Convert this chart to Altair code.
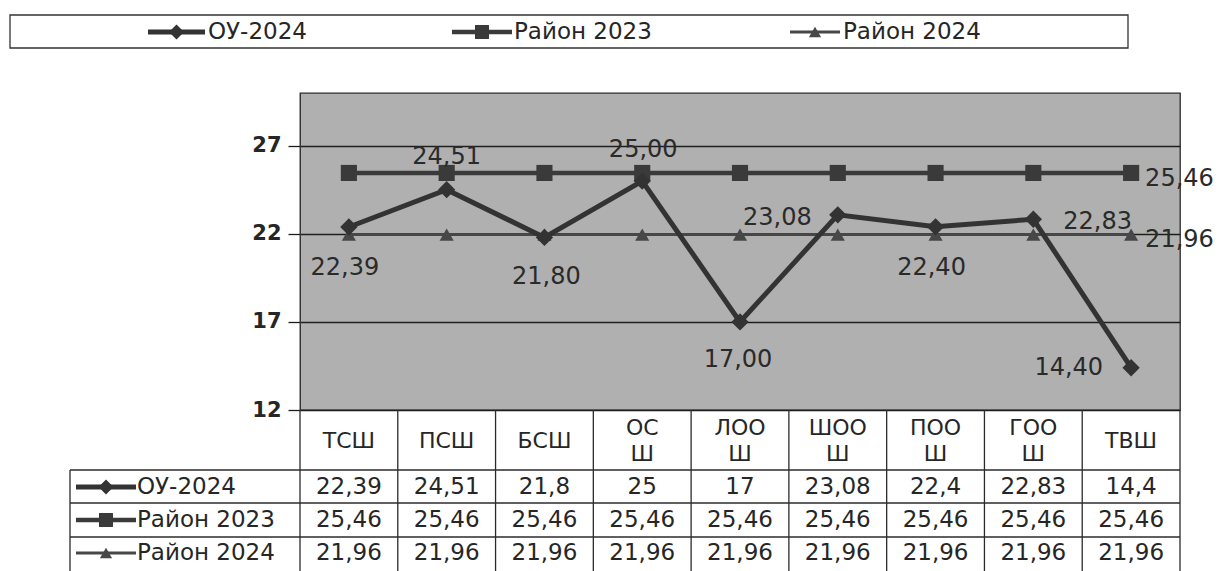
import altair as alt
import pandas as pd

# ---------------- data ----------------
categories = ["ТСШ", "ПСШ", "БСШ", "ОСШ", "ЛООШ", "ШООШ", "ПООШ", "ГООШ", "ТВШ"]
header_labels = ["ТСШ", "ПСШ", "БСШ", "ОС\nШ", "ЛОО\nШ", "ШОО\nШ", "ПОО\nШ", "ГОО\nШ", "ТВШ"]
series_names = ["ОУ-2024", "Район 2023", "Район 2024"]
ou_2024 = [22.39, 24.51, 21.80, 25.00, 17.00, 23.08, 22.40, 22.83, 14.40]
rayon_2023 = [25.46, 25.46, 25.46, 25.46, 25.46, 25.46, 25.46, 25.46, 25.46]
rayon_2024 = [21.96, 21.96, 21.96, 21.96, 21.96, 21.96, 21.96, 21.96, 21.96]
y_ticks = [12, 17, 22, 27]
y_domain = [12, 30]

series_values = [ou_2024, rayon_2023, rayon_2024]

# ---------------- layout / style ----------------
W, H = 880, 317
STEP = W / len(categories)
FONT = "DejaVu Sans"
TXT = "#262626"


def px(x):  # page x -> plot x
    return x - 300


def py(y):  # page y -> plot y
    return y - 93


def table_fmt(v):
    return f"{v:g}".replace(".", ",")


def label_fmt(v):
    return f"{v:.2f}".replace(".", ",")


styles = [
    dict(color="#333333", width=5, shape="diamond", size=300),
    dict(color="#3a3a3a", width=4.5, shape="square", size=260),
    dict(color="#474747", width=3, shape="triangle-up", size=200),
]

# label placement: (series index, point index, dx, dy, align)
label_place = [
    (0, 0, -4, 41, "center"),
    (0, 1, 0, -33, "center"),
    (0, 2, 2, 40, "center"),
    (0, 3, 1, -31, "center"),
    (0, 4, -2, 38, "center"),
    (0, 5, -26, 3, "right"),
    (0, 6, -4, 41, "center"),
    (0, 7, 30, 3, "left"),
    (0, 8, -28, 0, "right"),
    (1, 8, 14, 6, "left"),
    (2, 8, 14, 5, "left"),
]

X = alt.X("cat:N", sort=categories,
          scale=alt.Scale(type="point", domain=categories, padding=0.5), axis=None)
Y = alt.Y("value:Q",
          scale=alt.Scale(domain=y_domain, nice=False, zero=False),
          axis=alt.Axis(values=y_ticks, grid=True, gridColor="#1e1e1e", gridWidth=1.3,
                        tickColor="#1e1e1e", tickSize=12, tickWidth=1.3,
                        domainColor="#333", labelFont=FONT, labelFontSize=21,
                        labelFontWeight="bold", labelColor=TXT, labelPadding=7,
                        title=None))

layers = []

frames = []
for name, vals in zip(series_names, series_values):
    frames.append(pd.DataFrame({"cat": categories, "series": name, "value": vals}))
df_all = pd.concat(frames, ignore_index=True)

# series lines + points (draw Район 2024, Район 2023, ОУ-2024)
for idx in [2, 1, 0]:
    st = styles[idx]
    d = df_all[df_all.series == series_names[idx]]
    base = alt.Chart(d)
    layers.append(base.mark_line(color=st["color"], strokeWidth=st["width"]).encode(x=X, y=Y))
    layers.append(base.mark_point(shape=st["shape"], size=st["size"], filled=True,
                                  color=st["color"], opacity=1).encode(x=X, y=Y))

# data labels
for s, i, dx, dy, align in label_place:
    v = series_values[s][i]
    d = pd.DataFrame({"cat": [categories[i]], "value": [v], "t": [label_fmt(v)]})
    layers.append(alt.Chart(d).mark_text(font=FONT, fontSize=24, color="#2a2a2a",
                                         align=align, baseline="middle", dx=dx, dy=dy)
                  .encode(x=X, y=Y, text="t:N"))

# ---------------- table ----------------
line_c = "#2b2b2b"
df_cat = pd.DataFrame({"cat": categories, "hdr": header_labels})
df_cat["two"] = df_cat["hdr"].str.contains("\n")
# vertical boundaries
layers.append(alt.Chart(df_cat).mark_rule(color=line_c, strokeWidth=1.3, xOffset=-STEP / 2)
              .encode(x=X, y=alt.value(py(410)), y2=alt.value(py(575))))
layers.append(alt.Chart(df_cat.tail(1)).mark_rule(color=line_c, strokeWidth=1.3, xOffset=STEP / 2)
              .encode(x=X, y=alt.value(py(410)), y2=alt.value(py(575))))
# horizontal lines
for yy in [470, 503, 537]:
    layers.append(alt.Chart(df_cat.head(1)).mark_rule(color=line_c, strokeWidth=1.3)
                  .encode(x=alt.value(px(70)), x2=alt.value(px(1180)), y=alt.value(py(yy))))
layers.append(alt.Chart(df_cat.head(1)).mark_rule(color=line_c, strokeWidth=1.3)
              .encode(x=alt.value(px(70)), y=alt.value(py(470)), y2=alt.value(py(575))))
# header labels
layers.append(alt.Chart(df_cat[~df_cat.two]).mark_text(font=FONT, fontSize=22, color=TXT,
                                                       baseline="middle", align="center")
              .encode(x=X, y=alt.value(py(441)), text="hdr:N"))
layers.append(alt.Chart(df_cat[df_cat.two]).mark_text(font=FONT, fontSize=22, color=TXT,
                                                      lineBreak="\n", lineHeight=26,
                                                      baseline="middle", align="center")
              .encode(x=X, y=alt.value(py(428)), text="hdr:N"))
# values rows
row_y = [487, 520, 553]
for k, (name, vals) in enumerate(zip(series_names, series_values)):
    d = pd.DataFrame({"cat": categories, "t": [table_fmt(v) for v in vals]})
    layers.append(alt.Chart(d).mark_text(font=FONT, fontSize=23, color=TXT,
                                         baseline="middle", align="center")
                  .encode(x=X, y=alt.value(py(row_y[k])), text="t:N"))
    st = styles[k]
    one = pd.DataFrame({"name": [name]})
    layers.append(alt.Chart(one).mark_rule(color=st["color"], strokeWidth=st["width"])
                  .encode(x=alt.value(px(76)), x2=alt.value(px(136)), y=alt.value(py(row_y[k]))))
    layers.append(alt.Chart(one).mark_point(shape=st["shape"], size=st["size"] * 0.75, filled=True,
                                            color=st["color"], opacity=1)
                  .encode(x=alt.value(px(106)), y=alt.value(py(row_y[k]))))
    layers.append(alt.Chart(one).mark_text(font=FONT, fontSize=23, color=TXT, align="left",
                                           baseline="middle")
                  .encode(x=alt.value(px(137)), y=alt.value(py(row_y[k])), text="name:N"))

# ---------------- top legend ----------------
box = pd.DataFrame({"a": [0]})
layers.append(alt.Chart(box).mark_rect(fill="white", stroke="#333", strokeWidth=1.3)
              .encode(x=alt.value(px(10)), x2=alt.value(px(1128)),
                      y=alt.value(py(15)), y2=alt.value(py(48))))
leg_x = [(148, 205, 208), (452, 512, 514), (790, 840, 843)]
for k, name in enumerate(series_names):
    st = styles[k]
    x0, x1, xt = leg_x[k]
    one = pd.DataFrame({"name": [name]})
    layers.append(alt.Chart(one).mark_rule(color=st["color"], strokeWidth=st["width"])
                  .encode(x=alt.value(px(x0)), x2=alt.value(px(x1)), y=alt.value(py(32))))
    layers.append(alt.Chart(one).mark_point(shape=st["shape"], size=st["size"] * 0.75, filled=True,
                                            color=st["color"], opacity=1)
                  .encode(x=alt.value(px((x0 + x1) / 2)), y=alt.value(py(32))))
    layers.append(alt.Chart(one).mark_text(font=FONT, fontSize=23, color=TXT, align="left",
                                           baseline="middle")
                  .encode(x=alt.value(px(xt)), y=alt.value(py(32)), text="name:N"))

chart = alt.layer(*layers).properties(
    width=W, height=H,
    padding={"left": 292, "top": 85, "right": 35, "bottom": 161},
    autosize=alt.AutoSizeParams(type="none"),
    background="white",
).configure_view(fill="#b0b0b0", stroke="#2b2b2b", strokeWidth=1.3)

chart.save("out.html", embed_options={"renderer": "svg", "actions": False})
